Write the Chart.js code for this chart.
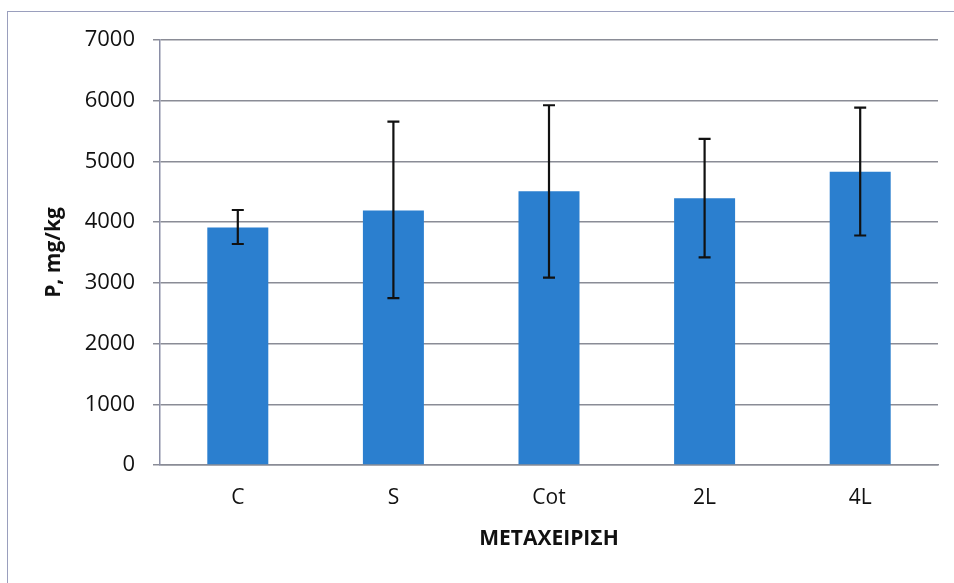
<!DOCTYPE html>
<html>
<head>
<meta charset="utf-8">
<script src="https://cdn.jsdelivr.net/npm/chart.js@4/dist/chart.umd.min.js"></script>
<style>
  html, body { margin: 0; padding: 0; background: #ffffff; }
  #wrap { position: relative; width: 954px; height: 583px; overflow: hidden; }
  #frame { position: absolute; left: 7px; top: 11px; width: 960px; height: 600px;
           border: 1.5px solid #9a9fbd; box-sizing: border-box; pointer-events: none; }
  canvas { position: absolute; left: 0; top: 0; }
</style>
</head>
<body>
<div id="wrap">
  <canvas id="c" width="954" height="583"></canvas>
  <div id="frame"></div>
</div>
<script>
const categories = ['C', 'S', 'Cot', '2L', '4L'];
const meanValues = [3913, 4190, 4507, 4392, 4832];
const errLower = [3640, 2750, 3085, 3420, 3780];
const errUpper = [4200, 5655, 5925, 5370, 5887];
const yTicks = [0, 1000, 2000, 3000, 4000, 5000, 6000, 7000];
const yTitle = 'P, mg/kg';
const xTitle = 'ΜΕΤΑΧΕΙΡΙΣΗ';

const FONT = "'Open Sans', 'DejaVu Sans', sans-serif";

const errorBarPlugin = {
  id: 'errorBars',
  afterDatasetsDraw(chart) {
    const ctx = chart.ctx;
    const y = chart.scales.y;
    const meta = chart.getDatasetMeta(0);
    ctx.save();
    ctx.strokeStyle = '#111111';
    ctx.lineWidth = 2.2;
    meta.data.forEach((bar, i) => {
      const x = bar.x;
      const yTop = y.getPixelForValue(errUpper[i]);
      const yBot = y.getPixelForValue(errLower[i]);
      const cap = 6;
      ctx.beginPath();
      ctx.moveTo(x, yTop); ctx.lineTo(x, yBot);
      ctx.moveTo(x - cap, yTop); ctx.lineTo(x + cap, yTop);
      ctx.moveTo(x - cap, yBot); ctx.lineTo(x + cap, yBot);
      ctx.stroke();
    });
    ctx.restore();
  }
};

new Chart(document.getElementById('c'), {
  type: 'bar',
  data: {
    labels: categories,
    datasets: [{
      data: meanValues,
      backgroundColor: '#2b7fcf',
      borderWidth: 0,
      barPercentage: 0.392,
      categoryPercentage: 1.0
    }]
  },
  options: {
    responsive: false,
    animation: false,
    events: [],
    layout: { padding: { left: 0, right: 16, top: 40, bottom: 0 } },
    plugins: { legend: { display: false }, tooltip: { enabled: false } },
    scales: {
      x: {
        grid: { display: false, drawTicks: false },
        border: { display: true, color: '#8a8c96', width: 1.5 },
        ticks: { color: '#111111', padding: 20, font: { family: FONT, size: 21 } },
        title: { display: true, text: xTitle, color: '#111111',
                 font: { family: FONT, size: 21, weight: 'bold' },
                 padding: { top: 0, bottom: 31 } },
        afterFit(scale) { scale.height = 118; }
      },
      y: {
        min: 0, max: 7000,
        afterBuildTicks(scale) { scale.ticks = yTicks.map(v => ({ value: v })); },
        grid: { color: '#8a8c96', lineWidth: 1.5, tickLength: 7, drawTicks: true },
        border: { display: true, color: '#8a8ea6', width: 1.5 },
        ticks: { color: '#111111', padding: 18, font: { family: FONT, size: 22 },
                 callback: (v) => String(v) },
        title: { display: true, text: yTitle, color: '#111111',
                 font: { family: FONT, size: 21, weight: 'bold' },
                 padding: { top: 41, bottom: 0 } },
        afterFit(scale) { scale.width = 160; }
      }
    }
  },
  plugins: [errorBarPlugin]
});
</script>
</body>
</html>
